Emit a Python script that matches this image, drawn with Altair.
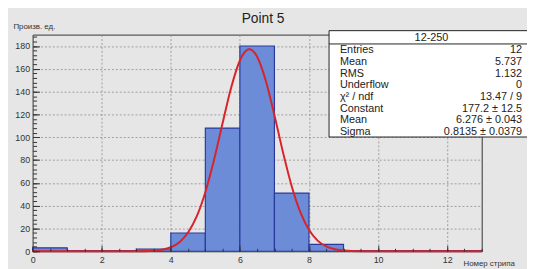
import altair as alt
import pandas as pd

# ---------------- data ----------------
bin_lo = [0, 1, 2, 3, 4, 5, 6, 7, 8, 9, 10, 11, 12]
counts = [3, 0.6, 0.6, 2, 16, 108, 180, 51, 6, 0.5, 0.5, 0.5, 0.5]

fit_x = [0, 1, 2, 2.5, 3, 3.5, 4, 4.25, 4.5, 4.75, 5, 5.25, 5.5, 5.75, 6, 6.25, 6.276,
         6.5, 6.75, 7, 7.25, 7.5, 7.75, 8, 8.25, 8.5, 8.75, 9, 9.5, 10, 11, 12, 13]
fit_y = [0, 0, 0, 0.004, 0.05, 0.52, 3.5, 8.0, 16.4, 30.5, 51.8, 80.0, 112.4, 143.8, 167.3, 177.1, 177.2,
         170.6, 149.5, 119.3, 86.5, 57.1, 34.3, 18.8, 9.3, 4.2, 1.74, 0.65, 0.07, 0, 0, 0, 0]

x_major = [0, 2, 4, 6, 8, 10, 12]
x_minor = [0, 0.5, 1, 1.5, 2, 2.5, 3, 3.5, 4, 4.5, 5, 5.5, 6, 6.5, 7, 7.5, 8, 8.5, 9, 9.5,
           10, 10.5, 11, 11.5, 12, 12.5, 13]
y_major = [0, 20, 40, 60, 80, 100, 120, 140, 160, 180]
y_minor = [0, 4, 8, 12, 16, 20, 24, 28, 32, 36, 40, 44, 48, 52, 56, 60, 64, 68, 72, 76, 80,
           84, 88, 92, 96, 100, 104, 108, 112, 116, 120, 124, 128, 132, 136, 140, 144, 148,
           152, 156, 160, 164, 168, 172, 176, 180, 184, 188]

title_text = "Point 5"
y_title = "Произв. ед."
x_title = "Номер стрипа"
box_header = "12-250"
stat_names = ["Entries", "Mean", "RMS", "Underflow", "χ² / ndf", "Constant", "Mean", "Sigma"]
stat_values = ["12", "5.737", "1.132", "0", "13.47 / 9", "177.2 ± 12.5",
               "6.276 ± 0.043", "0.8135 ± 0.0379"]

hist = pd.DataFrame({"lo": bin_lo, "count": counts})
fit = pd.DataFrame({"x": fit_x, "y": fit_y})
one = pd.DataFrame({"k": [0]})

FONT = "Liberation Sans"
TXT = "#222222"
xs = alt.Scale(domain=[0, 13], nice=False, zero=False)
ys = alt.Scale(domain=[0, 190], nice=False)

# histogram bars, carrying the grid (behind marks)
bars = alt.Chart(hist).transform_calculate(hi="datum.lo + 1").mark_rect(
    fill="#6c8cd8", stroke="#2a3a9c", strokeWidth=1.2
).encode(
    x=alt.X("lo:Q", scale=xs, axis=alt.Axis(grid=True, ticks=False, labels=False, domain=False,
                                            title=None, values=x_major, gridDash=[2, 2],
                                            gridColor="#8c8c8c", gridWidth=0.8, zindex=0)),
    x2="hi:Q",
    y=alt.Y("count:Q", scale=ys, axis=alt.Axis(grid=True, ticks=False, labels=False, domain=False,
                                               title=None, values=y_major, gridDash=[2, 2],
                                               gridColor="#8c8c8c", gridWidth=0.8, zindex=0)),
    y2=alt.datum(0),
)

line = alt.Chart(fit).mark_line(color="#d8232a", strokeWidth=2, interpolate="monotone").encode(
    x=alt.X("x:Q", scale=xs, axis=alt.Axis(
        orient="top", offset=-220, values=x_major, tickSize=6, tickColor="#333333", tickWidth=1,
        labelPadding=-10, labelBaseline="top", labelFontSize=9, labelFont=FONT, labelColor="#333333",
        labelFlush=False, labelOverlap=False, grid=False, domain=False, zindex=1, format="d",
        title=x_title, titleX=437, titleY=12, titleAlign="left", titleBaseline="middle",
        titleFontSize=8, titleFontWeight="normal", titleColor="#333333", titleFont=FONT)),
    y=alt.Y("y:Q", scale=ys, axis=alt.Axis(
        orient="right", offset=-456, values=y_major, tickSize=7, tickColor="#333333", tickWidth=1,
        labelPadding=-10, labelAlign="right", labelBaseline="middle", labelFontSize=9,
        labelFont=FONT, labelColor="#333333", labelOverlap=False, labelFlush=False,
        grid=False, domain=False, zindex=1, format="d",
        title=y_title, titleAngle=0, titleX=-20, titleY=-8, titleAlign="left",
        titleBaseline="middle", titleFontSize=8, titleFontWeight="normal",
        titleColor="#333333", titleFont=FONT)),
)

minor = alt.Chart(fit).mark_line(strokeOpacity=0).encode(
    x=alt.X("x:Q", scale=xs, axis=alt.Axis(
        orient="top", offset=-220, values=x_minor, tickSize=3, tickColor="#333333", tickWidth=1,
        labels=False, grid=False, domain=False, zindex=1, title=None)),
    y=alt.Y("y:Q", scale=ys, axis=alt.Axis(
        orient="right", offset=-456, values=y_minor, tickSize=4, tickColor="#333333", tickWidth=1,
        labels=False, grid=False, domain=False, zindex=1, title=None)),
)

box = alt.Chart(one).mark_rect(fill="white", stroke="#222222", strokeWidth=1).encode(
    x=alt.value(301), x2=alt.value(515), y=alt.value(-4), y2=alt.value(104))
sep = alt.Chart(one).mark_rule(stroke="#222222", strokeWidth=1).encode(
    x=alt.value(301), x2=alt.value(515), y=alt.value(9.5))
header = alt.Chart(one).mark_text(align="center", baseline="middle", fontSize=11,
                                  font=FONT, color=TXT).encode(
    x=alt.value(405), y=alt.value(3.5), text=alt.value(box_header))
names = alt.Chart(one).mark_text(align="left", baseline="top", fontSize=11, lineHeight=11.85,
                                 font=FONT, color=TXT).encode(
    x=alt.value(312), y=alt.value(10), text=alt.value(stat_names))
vals = alt.Chart(one).mark_text(align="right", baseline="top", fontSize=11, lineHeight=11.85,
                                font=FONT, color=TXT).encode(
    x=alt.value(497), y=alt.value(10), text=alt.value(stat_values))
title = alt.Chart(one).mark_text(align="center", baseline="alphabetic", fontSize=14,
                                 font=FONT, color=TXT).encode(
    x=alt.value(234), y=alt.value(-12), text=alt.value(title_text))

chart = alt.layer(bars, line, minor, box, sep, header, names, vals, title).resolve_axis(
    x="independent", y="independent"
).properties(
    width=456, height=220,
    autosize=alt.AutoSizeParams(type="none"),
    padding={"left": 25, "top": 25, "right": 46, "bottom": 16},
    background="#e6e6e6",
).configure_view(stroke="#333333", strokeWidth=1)

chart.save("out.html", embed_options={"renderer": "svg", "actions": False})
